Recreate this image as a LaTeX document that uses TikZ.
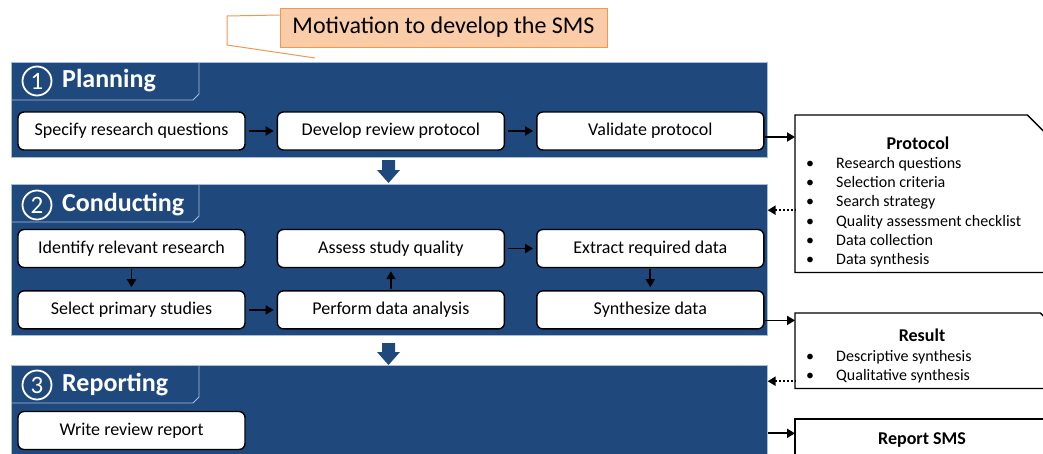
\documentclass[tikz,border=0pt]{standalone}
\usepackage{fontspec}
\setmainfont{Carlito}
\usetikzlibrary{arrows.meta,positioning}
\definecolor{smsblue}{RGB}{31,73,125}
\definecolor{tabline}{RGB}{165,188,218}
\definecolor{motfill}{RGB}{251,204,168}
\definecolor{motline}{RGB}{242,150,84}
\begin{document}
\begin{tikzpicture}[x=1pt,y=-1pt]

\tikzstyle{panel} = [fill=smsblue, draw=tabline, line width=0.6pt, anchor=north west, minimum width=756pt, inner sep=0pt]
\tikzstyle{box} = [draw, fill=white, line width=1.4pt, rounded corners=6pt, minimum width=227pt, minimum height=38pt, inner sep=0pt, font=\fontsize{18}{21}\selectfont]
\tikzstyle{num} = [circle, draw=white, line width=1.8pt, minimum size=29pt, inner sep=0pt, text=white, font=\fontsize{25}{28}\selectfont]
\tikzstyle{phasename} = [anchor=west, text=white, inner sep=0pt, font=\bfseries\fontsize{26}{30}\selectfont]
\tikzstyle{tab} = [draw=tabline, line width=0.8pt]
\tikzstyle{go} = [-{Triangle[length=8pt,width=9pt]}, line width=1.9pt, shorten <=3pt, shorten >=3pt]
\tikzstyle{feed} = [-{Triangle[length=8pt,width=9pt]}, line width=1.8pt]
\tikzstyle{loopback} = [{Triangle[length=8pt,width=9pt]}-, line width=1.9pt, dotted]
\tikzstyle{doc} = [draw=none, anchor=north west, inner sep=0pt]
\tikzstyle{docline} = [line width=1.3pt]
\tikzstyle{doctitle} = [inner sep=0pt, font=\bfseries\fontsize{18}{21}\selectfont]
\tikzstyle{items} = [anchor=north west, align=left, inner sep=0pt, font=\fontsize{16}{19.3}\selectfont]
\tikzstyle{motiv} = [fill=motfill, draw=motline, line width=1pt, minimum width=327pt, minimum height=39pt, inner sep=0pt, font=\fontsize{24}{27}\selectfont]

\useasboundingbox (0,0) rectangle (1043,453);
\clip (0,0) rectangle (1043,453);

% motivation callout
\node[motiv] (mot) at (443.5,27.5) {Motivation to develop the SMS};
\coordinate (motend) at (315,58);
\draw[motline, line width=1pt] ([yshift=12.5pt]mot.west) -- (227,16) -- (227,45) -- (motend);

% phases
\node[panel, minimum height=95pt] (plan) at (11,62) {};
\node[panel, minimum height=151pt] (cond) at (11,184) {};
\node[panel, minimum height=100pt] (repo) at (11,365) {};

\draw[tab] (11,100) -- (193,100) -- (199,94) -- (199,62);
\draw[tab] (11,222) -- (193,222) -- (199,216) -- (199,184);
\draw[tab] (11,403) -- (193,403) -- (199,397) -- (199,365);

\node[num] (n1) at (37,81) {1};
\node[phasename] (t1) at (62,81) {Planning};
\node[num] (n2) at (37,205) {2};
\node[phasename] (t2) at (62,205) {Conducting};
\node[num] (n3) at (37,385) {3};
\node[phasename] (t3) at (62,385) {Reporting};

% down arrows between phases
\coordinate (d1) at (388.5,160);
\coordinate (d2) at (388.5,343);
\fill[smsblue] (d1) ++(-6.5,0) -- ++(13,0) -- ++(0,10) -- ++(5,0) -- ++(-11.5,13) -- ++(-11.5,-13) -- ++(5,0) -- cycle;
\fill[smsblue] (d2) ++(-6.5,0) -- ++(13,0) -- ++(0,9) -- ++(5,0) -- ++(-11.5,13) -- ++(-11.5,-13) -- ++(5,0) -- cycle;

% planning
\node[box] (s1) at (131.5,131) {Specify research questions};
\node[box, right=31pt of s1] (s2) {Develop review protocol};
\node[box, right=31pt of s2] (s3) {Validate protocol};
\draw[go] (s1) -- (s2);
\draw[go] (s2) -- (s3);

% conducting
\node[box] (c1) at (131.5,248.5) {Identify relevant research};
\node[box, below=22pt of c1] (c2) {Select primary studies};
\node[box, right=31pt of c2] (c3) {Perform data analysis};
\node[box, above=22pt of c3] (c4) {Assess study quality};
\node[box, right=31pt of c4] (c5) {Extract required data};
\node[box, below=22pt of c5] (c6) {Synthesize data};
\draw[go, shorten <=1pt] (c1) -- (c2);
\draw[go] (c2) -- (c3);
\draw[go, shorten <=1pt] (c3) -- (c4);
\draw[go] (c4) -- (c5);
\draw[go, shorten <=1pt] (c5) -- (c6);

% reporting
\node[box] (r1) at (131.5,430.5) {Write review report};

% outputs
\node[doc, minimum width=262pt, minimum height=157pt] (proto) at (795,115) {};
\draw[docline] (proto.south west) -- (proto.north west) -- ([xshift=-30pt]proto.north east) -- ([yshift=-30pt]proto.north east) -- (proto.south east) -- cycle;
\node[doctitle] (protot) at (918,143) {Protocol};
\node[items] (protol) at (806,157) {\makebox[30pt][l]{•}Research questions\\
\makebox[30pt][l]{•}Selection criteria\\
\makebox[30pt][l]{•}Search strategy\\
\makebox[30pt][l]{•}Quality assessment checklist\\
\makebox[30pt][l]{•}Data collection\\
\makebox[30pt][l]{•}Data synthesis};

\node[doc, minimum width=255pt, minimum height=75pt] (res) at (795,313) {};
\draw[docline] (res.south west) -- (res.north west) -- ([xshift=-10pt]res.north east) -- ([yshift=-10pt]res.north east) -- (res.south east) -- cycle;
\node[doctitle] (rest) at (922,335) {Result};
\node[items] (resl) at (806,350) {\makebox[30pt][l]{•}Descriptive synthesis\\
\makebox[30pt][l]{•}Qualitative synthesis};

\node[doc, minimum width=262pt, minimum height=60pt] (rep) at (795,419) {};
\draw[docline] (rep.south west) -- (rep.north west) -- (rep.north east) -- (rep.south east);
\node[doctitle] (rept) at (922,440) {Report SMS};

% connectors to outputs
\draw[feed] ([yshift=-6pt]s3.east) -- ([yshift=-6pt]s3.east -| proto.west);
\draw[feed] ([yshift=-10.5pt]c6.east) -- ([yshift=-10.5pt]c6.east -| res.west);
\draw[feed] ([yshift=-18pt]repo.east) -- ([yshift=-18pt]repo.east -| rep.west);
\draw[loopback] ([yshift=-16.5pt]proto.west -| cond.east) -- ([yshift=-16.5pt]proto.west);
\draw[loopback] ([yshift=-30.5pt]res.west -| repo.east) -- ([yshift=-30.5pt]res.west);

\end{tikzpicture}
\end{document}
